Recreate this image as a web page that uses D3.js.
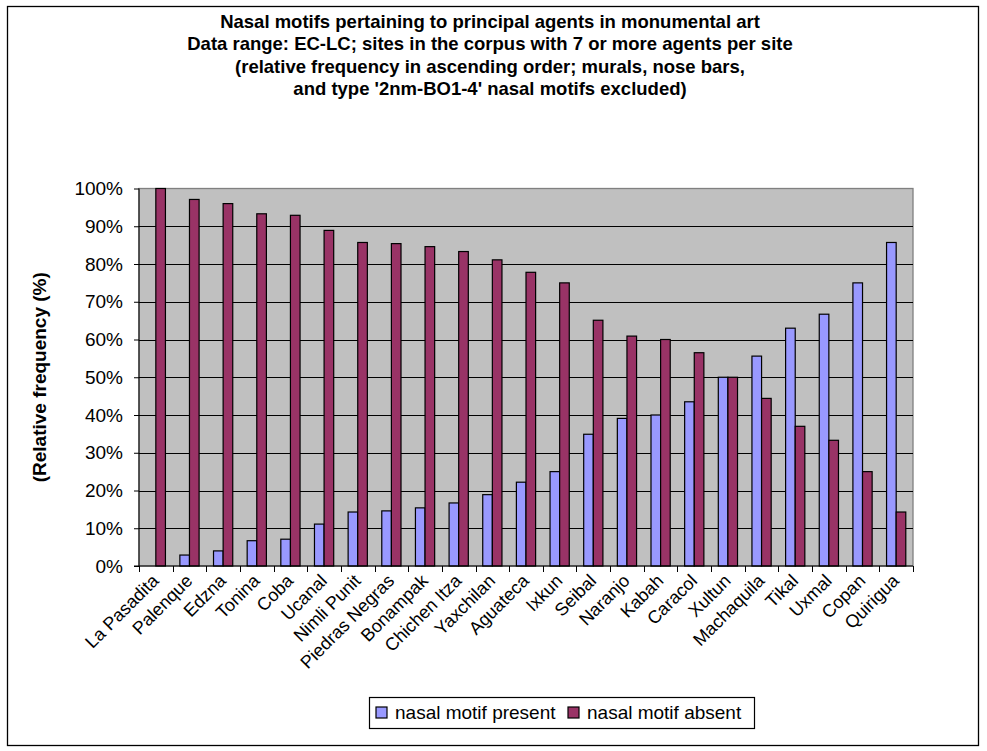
<!DOCTYPE html>
<html>
<head>
<meta charset="utf-8">
<script src="https://cdn.jsdelivr.net/npm/d3@7/dist/d3.min.js"></script>
<style>
  body { margin: 0; background: #fff; }
  text { font-family: "Liberation Sans", Arial, sans-serif; fill: #000; }
</style>
</head>
<body>
<div id="myChart"></div>
<script>
// sites, in the order shown on the x axis
const sites = ["La Pasadita", "Palenque", "Edzna", "Tonina", "Coba", "Ucanal", "Nimli Punit",
  "Piedras Negras", "Bonampak", "Chichen Itza", "Yaxchilan", "Aguateca", "Ixkun", "Seibal",
  "Naranjo", "Kabah", "Caracol", "Xultun", "Machaquila", "Tikal", "Uxmal", "Copan", "Quirigua"];

// relative frequency (%)
const present = [0, 2.9, 4, 6.7, 7.1, 11.1, 14.3, 14.6, 15.4, 16.7, 18.9, 22.2, 25, 34.9,
  39.1, 40, 43.5, 50, 55.6, 63, 66.7, 75, 85.7];
const absent = [100, 97.1, 96, 93.3, 92.9, 88.9, 85.7, 85.4, 84.6, 83.3, 81.1, 77.8, 75, 65.1,
  60.9, 60, 56.5, 50, 44.4, 37, 33.3, 25, 14.3];

const seriesNames = ["nasal motif present", "nasal motif absent"];
const seriesColors = ["#9999ff", "#993366"];
const yTicks = [0, 10, 20, 30, 40, 50, 60, 70, 80, 90, 100];

const titleLines = [
  "Nasal motifs pertaining to principal agents in monumental art",
  "Data range: EC-LC; sites in the corpus with 7 or more agents per site",
  "(relative frequency in ascending order; murals, nose bars,",
  "and type '2nm-BO1-4' nasal motifs excluded)"
];
const yTitle = "(Relative frequency (%)";

// page and plot area
const W = 987, H = 751;
const plot = {left: 139, right: 913, top: 188.5, bottom: 566};

const svg = d3.select("#myChart").append("svg")
    .attr("width", W)
    .attr("height", H);

// chart border
svg.append("rect")
    .attr("x", 7.5).attr("y", 6.5)
    .attr("width", 971).attr("height", 739)
    .attr("fill", "#fff")
    .attr("stroke", "#000")
    .attr("stroke-width", 1.3);

const x = d3.scaleBand()
    .domain(sites)
    .range([plot.left, plot.right]);

const barW = x.bandwidth() / 3.5;
const xs = d3.scaleBand()
    .domain([0, 1])
    .range([x.bandwidth() / 2 - barW, x.bandwidth() / 2 + barW]);

const y = d3.scaleLinear()
    .domain([0, 100])
    .range([plot.bottom, plot.top]);

// grey plot background
svg.append("rect")
    .attr("x", plot.left).attr("y", plot.top)
    .attr("width", plot.right - plot.left)
    .attr("height", plot.bottom - plot.top)
    .attr("fill", "#c0c0c0")
    .attr("stroke", "#808080")
    .attr("stroke-width", 1.3);

// gridlines
svg.append("g")
  .selectAll("line")
  .data(yTicks.filter(d => d > 0 && d < 100))
  .join("line")
    .attr("x1", plot.left).attr("x2", plot.right)
    .attr("y1", d => Math.round(y(d)) + 0.5)
    .attr("y2", d => Math.round(y(d)) + 0.5)
    .attr("stroke", "#000")
    .attr("stroke-width", 1);

// bars
const rows = sites.map((s, i) => ({site: s, vals: [present[i], absent[i]]}));

svg.append("g")
  .selectAll("g")
  .data(rows)
  .join("g")
    .attr("transform", d => `translate(${x(d.site)},0)`)
  .selectAll("rect")
  .data(d => d.vals.map((v, k) => ({k, v})))
  .join("rect")
    .attr("x", d => xs(d.k))
    .attr("y", d => y(d.v))
    .attr("width", xs.bandwidth())
    .attr("height", d => y(0) - y(d.v))
    .attr("fill", d => seriesColors[d.k])
    .attr("stroke", "#000")
    .attr("stroke-width", 1.2);

// y axis
const yAxis = d3.axisLeft(y)
    .tickValues(yTicks)
    .tickSize(5)
    .tickPadding(11)
    .tickFormat(d => d + "%");

svg.append("g")
    .attr("transform", `translate(${plot.left},0)`)
    .call(yAxis)
    .call(g => g.select(".domain").attr("stroke", "#000").attr("d", `M0,${plot.top}V${plot.bottom}`))
    .call(g => g.selectAll(".tick line").attr("stroke", "#000"))
    .call(g => g.selectAll("text")
        .attr("font-size", "19px")
        .attr("font-family", "Liberation Sans, Arial, sans-serif")
        .attr("fill", "#000"));

// x axis: line, ticks between categories, rotated labels
svg.append("line")
    .attr("x1", plot.left - 5).attr("x2", plot.right)
    .attr("y1", plot.bottom).attr("y2", plot.bottom)
    .attr("stroke", "#000")
    .attr("stroke-width", 1.2);

svg.append("g")
  .selectAll("line")
  .data(sites.concat(["end"]))
  .join("line")
    .attr("x1", (d, i) => Math.round(plot.left + i * x.step()) + 0.5)
    .attr("x2", (d, i) => Math.round(plot.left + i * x.step()) + 0.5)
    .attr("y1", plot.bottom)
    .attr("y2", plot.bottom + 6)
    .attr("stroke", "#000");

svg.append("g")
  .selectAll("text")
  .data(sites)
  .join("text")
    .attr("transform", d => `translate(${x(d) + x.bandwidth() / 2 + 4},${plot.bottom + 16}) rotate(-45)`)
    .attr("text-anchor", "end")
    .attr("font-size", "18px")
    .text(d => d);

// y axis title
svg.append("text")
    .attr("transform", `translate(46,${(plot.top + plot.bottom) / 2}) rotate(-90)`)
    .attr("text-anchor", "middle")
    .attr("font-size", "19px")
    .attr("font-weight", "bold")
    .text(yTitle);

// chart title
svg.append("g")
  .selectAll("text")
  .data(titleLines)
  .join("text")
    .attr("x", 490)
    .attr("y", (d, i) => 28 + i * 22.3)
    .attr("text-anchor", "middle")
    .attr("font-size", "18.5px")
    .attr("font-weight", "bold")
    .text(d => d);

// legend
const legend = svg.append("g");
legend.append("rect")
    .attr("x", 369.5).attr("y", 697.5)
    .attr("width", 385).attr("height", 31)
    .attr("fill", "#fff")
    .attr("stroke", "#000")
    .attr("stroke-width", 1.2);

const itemX = [376, 568];
const item = legend.selectAll("g.item")
  .data(seriesNames)
  .join("g")
    .attr("class", "item")
    .attr("transform", (d, i) => `translate(${itemX[i]},707)`);

item.append("rect")
    .attr("width", 11).attr("height", 11)
    .attr("fill", (d, i) => seriesColors[i])
    .attr("stroke", "#000")
    .attr("stroke-width", 1.2);

item.append("text")
    .attr("x", 19)
    .attr("y", 12)
    .attr("font-size", "19px")
    .text(d => d);
</script>
</body>
</html>
